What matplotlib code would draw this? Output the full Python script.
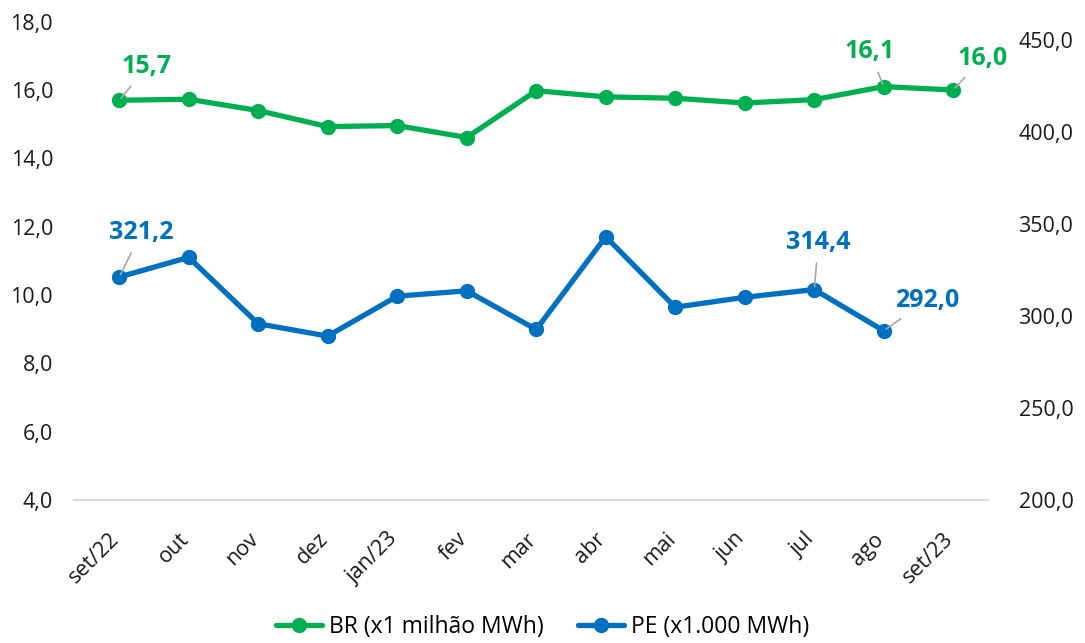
import matplotlib
matplotlib.use("Agg")
import matplotlib.pyplot as plt
import matplotlib.transforms as mtransforms

plt.rcParams['font.family'] = ['Open Sans', 'DejaVu Sans']

categories = ["set/22", "out", "nov", "dez", "jan/23", "fev", "mar", "abr", "mai", "jun", "jul", "ago", "set/23"]
br_values = [15.7, 15.73, 15.40, 14.93, 14.96, 14.61, 15.98, 15.80, 15.76, 15.62, 15.72, 16.1, 16.0]
pe_values = [321.2, 331.9, 295.8, 289.1, 310.8, 313.7, 292.7, 343.1, 304.8, 310.2, 314.4, 292.0]
left_ticks = [4, 6, 8, 10, 12, 14, 16, 18]
right_ticks = [200, 250, 300, 350, 400, 450]
br_label = "BR (x1 milhão MWh)"
pe_label = "PE (x1.000 MWh)"

GREEN = "#00B050"
BLUE = "#0070C0"
LEADER = "#A6A6A6"

fig = plt.figure(figsize=(10.85, 6.43), dpi=100)
ax = fig.add_axes([74/1085, 1-500/643, (988-74)/1085, (500-21.7)/643])
ax2 = ax.twinx()

x = list(range(len(categories)))
l1, = ax.plot(x, br_values, color=GREEN, lw=3.8, marker='o', ms=10, label=br_label, solid_capstyle='round')
l2, = ax2.plot(x[:len(pe_values)], pe_values, color=BLUE, lw=3.8, marker='o', ms=10, label=pe_label, solid_capstyle='round')

ax.set_xlim(-0.65, 12.5)
ax.set_ylim(4, 18)
ax2.set_ylim(200, 460)
ax.set_yticks(left_ticks)
ax.set_yticklabels([f"{v:.1f}".replace('.', ',') for v in left_ticks])
ax2.set_yticks(right_ticks)
ax2.set_yticklabels([f"{v:.1f}".replace('.', ',') for v in right_ticks])
ax.set_xticks(x)
ax.set_xticklabels(categories, rotation=45, ha='right', va='center', rotation_mode='anchor')

for a in (ax, ax2):
    for s in a.spines.values():
        s.set_visible(False)
    a.tick_params(length=0, labelsize=15.5, colors='#1a1a1a')
ax.spines['bottom'].set_visible(True)
ax.spines['bottom'].set_color('#D9D9D9')
ax.spines['bottom'].set_linewidth(1.5)
ax.tick_params(axis='y', pad=15)
ax2.tick_params(axis='y', pad=22)
ax.tick_params(axis='x', pad=26)
for lab in ax2.get_yticklabels():
    lab.set_ha('left')
shift = mtransforms.ScaledTranslation(-3/100, 0, fig.dpi_scale_trans)
for lab in ax.get_xticklabels():
    lab.set_transform(lab.get_transform() + shift)

def lbl(a, i, vals, txt, dx, dy, color):
    a.annotate(txt, xy=(i, vals[i]), xytext=(dx, dy), textcoords='offset points',
               ha='center', va='center', fontsize=18, fontweight='bold', color=color,
               arrowprops=dict(arrowstyle='-', color=LEADER, lw=1.2, shrinkA=4, shrinkB=2))

lbl(ax, 0, br_values, "15,7", 20, 24, GREEN)
lbl(ax, 11, br_values, "16,1", -10, 25, GREEN)
lbl(ax, 12, br_values, "16,0", 21, 23, GREEN)
lbl(ax2, 0, pe_values, "321,2", 16, 32, BLUE)
lbl(ax2, 10, pe_values, "314,4", 3, 34, BLUE)
lbl(ax2, 11, pe_values, "292,0", 31, 22, BLUE)

fig.legend(handles=[l1, l2], loc='center', bbox_to_anchor=(0.5, 1-627/643), ncol=2,
           frameon=False, fontsize=16.5, handlelength=2.0, columnspacing=1.5, handletextpad=0.3)

fig.savefig("out.png", dpi=100)
